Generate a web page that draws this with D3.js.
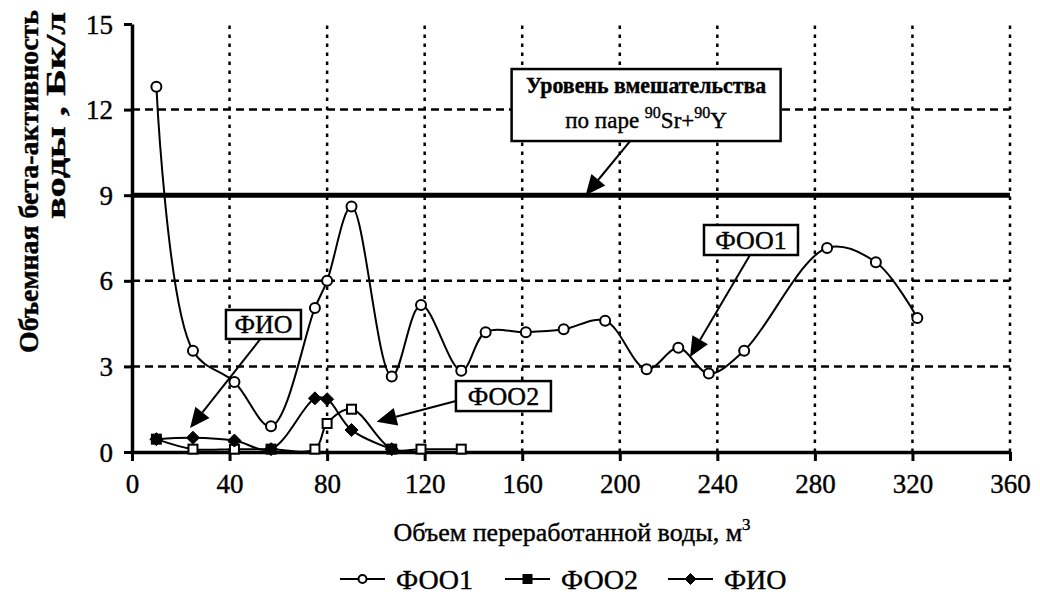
<!DOCTYPE html>
<html><head><meta charset="utf-8">
<script src="https://cdn.jsdelivr.net/npm/d3@7"></script>
<style>
body{margin:0;background:#fff}
svg{display:block}
svg text{font-family:"Liberation Serif","DejaVu Serif","Noto Serif",serif !important;fill:#000;stroke:#000;stroke-width:0.4px}
</style>
</head><body>
<svg id="c" width="1040" height="599"></svg>
<script>
// ---- data ----
const xTicks = [0,40,80,120,160,200,240,280,320,360];
const yTicks = [0,3,6,9,12,15];
const seriesNames = ["ФОО1","ФОО2","ФИО"];

const foo1X = [10,25,42,57,75,80,90,106.5,118.5,135,145,161.5,177,194,211,224,236.5,251,285,305,322];
const foo1Y = [12.8,3.55,2.45,0.9,5.05,6.0,8.6,2.65,5.15,2.85,4.2,4.2,4.3,4.6,2.9,3.65,2.75,3.55,7.15,6.65,4.7];

const foo2X = [10,25,42,57,75,80,90,106.5,118.5,135];
const foo2Y = [0.45,0.1,0.1,0.1,0.1,1.0,1.5,0.1,0.1,0.1];

const fioX = [10,25,42,57,75,80,90,106.5];
const fioY = [0.45,0.5,0.4,0.1,1.88,1.85,0.77,0.1];

const interventionLevel = 9;

// annotations: box centre (data coords), arrow tip (data coords)
const annLabels = ["level","ФОО1","ФОО2","ФИО"];
const annBoxX = [210.8,253.8,152.3,53.9];
const annBoxY = [12.16,7.43,1.96,4.47];
const annTipX = [186,228.8,100.3,23.8];
const annTipY = [9.0,3.33,1.06,0.84];

// ---- layout ----
const svg = d3.select("#c");
const x = d3.scaleLinear().domain([0,360]).range([132,1010]);
const y = d3.scaleLinear().domain([0,15]).range([452,24]);

// grid
const g = svg.append("g");
g.selectAll("line.vg").data(xTicks.filter(d=>d>0)).join("line")
  .attr("x1",d=>x(d)).attr("x2",d=>x(d)).attr("y1",y(0)).attr("y2",y(15))
  .attr("stroke","#000").attr("stroke-width",2.5).attr("stroke-dasharray","3.5,5.5");
g.selectAll("line.hg").data(yTicks.filter(d=>d>0 && d<15 && d!==interventionLevel)).join("line")
  .attr("x1",x(0)).attr("x2",x(360)).attr("y1",d=>y(d)).attr("y2",d=>y(d))
  .attr("stroke","#000").attr("stroke-width",2.5).attr("stroke-dasharray","8,5");

// intervention level line
svg.append("line").attr("x1",x(0)).attr("x2",x(360))
  .attr("y1",y(interventionLevel)).attr("y2",y(interventionLevel))
  .attr("stroke","#000").attr("stroke-width",5);

// axes
const xAxis = svg.append("g").attr("transform",`translate(0,${y(0)})`)
  .call(d3.axisBottom(x).tickValues(xTicks).tickSize(9).tickSizeOuter(0).tickPadding(13));
const yAxis = svg.append("g").attr("transform",`translate(${x(0)},0)`)
  .call(d3.axisLeft(y).tickValues(yTicks).tickSize(8).tickSizeOuter(0).tickPadding(11));
[xAxis,yAxis].forEach(a=>{
  a.attr("font-family",null);
  a.select(".domain").attr("stroke","#000").attr("stroke-width",3.5);
  a.selectAll(".tick line").attr("stroke","#000").attr("stroke-width",3);
  a.selectAll(".tick text").style("font-size","27px").attr("fill","#000");
});
yAxis.selectAll(".tick text").attr("dy","0.34em");

// series
const curve = d3.curveCatmullRom.alpha(0.5);
const line = d3.line().x(d=>x(d[0])).y(d=>y(d[1])).curve(curve);
const foo1 = d3.zip(foo1X,foo1Y), foo2 = d3.zip(foo2X,foo2Y), fio = d3.zip(fioX,fioY);

function drawSeries(data){
  svg.append("path").datum(data).attr("d",line).attr("fill","none").attr("stroke","#000").attr("stroke-width",2);
}
drawSeries(foo1); drawSeries(foo2); drawSeries(fio);

const circ = (sel,cx,cy,r)=>sel.append("circle").attr("cx",cx).attr("cy",cy).attr("r",r)
  .attr("fill","#fff").attr("stroke","#000").attr("stroke-width",2);
const sq = (sel,cx,cy,s,fill)=>sel.append("rect").attr("x",cx-s/2).attr("y",cy-s/2).attr("width",s).attr("height",s)
  .attr("fill",fill).attr("stroke","#000").attr("stroke-width",2);
const dia = (sel,cx,cy,s)=>sel.append("path")
  .attr("d",`M${cx},${cy-s}L${cx+s},${cy}L${cx},${cy+s}L${cx-s},${cy}Z`).attr("fill","#000").attr("stroke","#000").attr("stroke-width",1);

const mk = svg.append("g");
foo1.forEach(d=>circ(mk,x(d[0]),y(d[1]),5));
foo2.forEach(d=>sq(mk,x(d[0]),y(d[1]),9,"#fff"));
fio.forEach(d=>dia(mk,x(d[0]),y(d[1]),6.5));

// annotations
const ann = svg.append("g");
function arrow(x1,y1,x2,y2){
  const a = Math.atan2(y2-y1,x2-x1), L=20, W=9;
  const bx = x2 - L*Math.cos(a), by = y2 - L*Math.sin(a);
  ann.append("line").attr("x1",x1).attr("y1",y1).attr("x2",bx).attr("y2",by)
    .attr("stroke","#000").attr("stroke-width",2);
  const px = -Math.sin(a)*W, py = Math.cos(a)*W;
  ann.append("path").attr("d",`M${x2},${y2}L${bx+px},${by+py}L${bx-px},${by-py}Z`).attr("fill","#000");
}
const boxW = [269,94,95,75], boxH = [72,30,30,29];
annLabels.forEach((lab,i)=>{
  const cx = x(annBoxX[i]), cy = y(annBoxY[i]);
  const w = boxW[i], h = boxH[i];
  let sx, sy;
  if(lab==="ФОО2"){ sx = cx - w/2; sy = cy + 5; }
  else { sx = cx + (i===0? -16 : (i===1? -1 : -3)); sy = cy + h/2; }
  arrow(sx,sy,x(annTipX[i]),y(annTipY[i]));
  ann.append("rect").attr("x",cx-w/2).attr("y",cy-h/2).attr("width",w).attr("height",h)
    .attr("fill","#fff").attr("stroke","#000").attr("stroke-width",2.5);
  if(lab==="level"){
    ann.append("text").attr("x",cx).attr("y",cy-12).attr("text-anchor","middle")
      .style("font-size","23px").style("font-weight","bold")
      .attr("textLength",240).attr("lengthAdjust","spacingAndGlyphs").text("Уровень вмешательства");
    const t = ann.append("text").attr("x",cx).attr("y",cy+23).attr("text-anchor","middle").style("font-size","23px");
    t.append("tspan").text("по паре ");
    t.append("tspan").attr("dy",-10).style("font-size","16px").text("90");
    t.append("tspan").attr("dy",10).text("Sr+");
    t.append("tspan").attr("dy",-10).style("font-size","16px").text("90");
    t.append("tspan").attr("dy",10).text("Y");
  } else {
    ann.append("text").attr("x",cx).attr("y",cy+9).attr("text-anchor","middle")
      .style("font-size","26px").text(lab);
  }
});

// axis titles
const xt = svg.append("text").attr("x",572).attr("y",541).attr("text-anchor","middle").style("font-size","26px");
xt.append("tspan").text("Объем переработанной воды, м");
xt.append("tspan").attr("dy",-11).style("font-size","17px").text("3");

svg.append("text").attr("transform","translate(38,10) rotate(-90)").attr("text-anchor","end")
  .style("font-size","27px").style("font-weight","bold")
  .attr("textLength",343).attr("lengthAdjust","spacingAndGlyphs").text("Объемная бета-активность");
svg.append("text").attr("transform","translate(65,12) rotate(-90)").attr("text-anchor","end")
  .style("font-size","27px").style("font-weight","bold")
  .attr("textLength",207).attr("lengthAdjust","spacingAndGlyphs").text("воды , Бк/л");

// legend
const legX = [340,505,668];
const lg = svg.append("g");
seriesNames.forEach((n,i)=>{
  const lx = legX[i], ly = 579;
  lg.append("line").attr("x1",lx).attr("x2",lx+45).attr("y1",ly).attr("y2",ly).attr("stroke","#000").attr("stroke-width",2);
  if(i===0) circ(lg,lx+22.5,ly,4);
  if(i===1) sq(lg,lx+22.5,ly,8,"#000");
  if(i===2) dia(lg,lx+22.5,ly,5.5);
  lg.append("text").attr("x",lx+56).attr("y",ly+10).style("font-size","28px").text(n);
});
</script>
</body></html>
